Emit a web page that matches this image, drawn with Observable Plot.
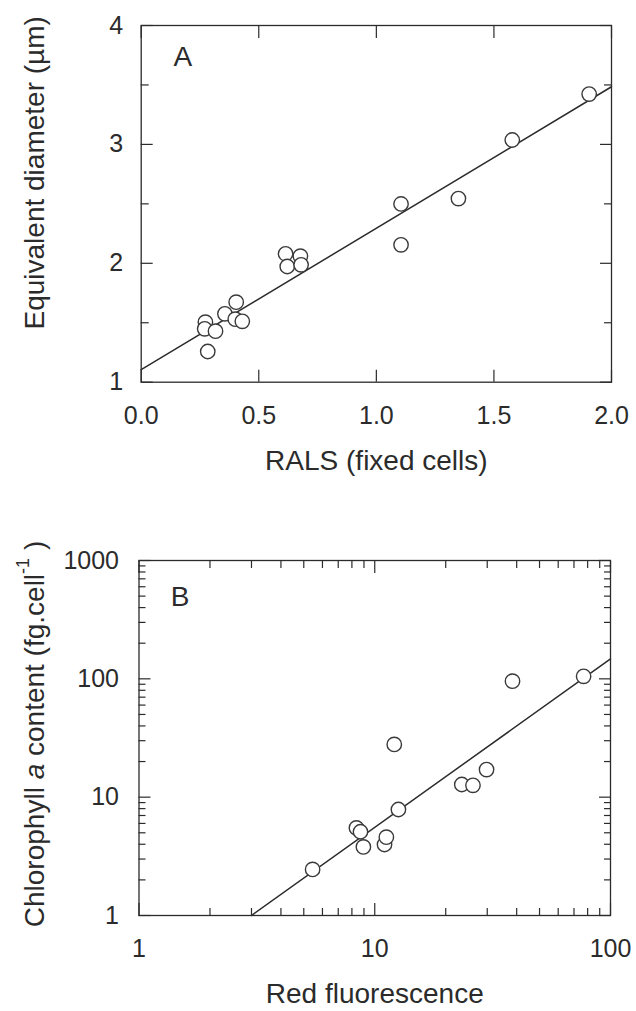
<!DOCTYPE html>
<html>
<head>
<meta charset="utf-8">
<script src="https://cdn.jsdelivr.net/npm/d3@7"></script>
<script src="https://cdn.jsdelivr.net/npm/@observablehq/plot@0.6"></script>
<style>
  html, body { margin: 0; padding: 0; background: white; }
  #chart { width: 636px; }
  #chart svg { display: block; }
</style>
</head>
<body>
<div id="chart"></div>
<script>
// ---------- Panel A data ----------
const ralsA = [0.273, 0.270, 0.316, 0.283, 0.356, 0.404, 0.400, 0.430, 0.614, 0.677, 0.621, 0.680, 1.105, 1.105, 1.349, 1.578, 1.905];
const diamA = [1.505, 1.449, 1.429, 1.258, 1.575, 1.673, 1.530, 1.512, 2.080, 2.060, 1.973, 1.987, 2.499, 2.155, 2.544, 3.037, 3.423];
const fitA = {intercept: 1.105, slope: 1.19};
const xTicksA = [0, 0.5, 1, 1.5, 2];
const yTicksA = [1, 2, 3, 4];
const yHalfTicksA = [1.5, 2.5, 3.5];
const titleXA = "RALS (fixed cells)";
const titleYA = "Equivalent diameter (µm)";
const letterA = "A";

// ---------- Panel B data ----------
const redFluoB = [5.45, 8.36, 8.70, 8.95, 11.0, 11.2, 12.6, 12.1, 23.4, 26.1, 29.8, 38.4, 76.9];
const chlB     = [2.45, 5.50, 5.10, 3.80, 3.98, 4.59, 7.87, 27.9, 12.8, 12.6, 17.1, 95.5, 105];
const fitB = {x0: 3.0, exponent: 1.424}; // y = (x / x0)^exponent
const xTicksB = [1, 10, 100];
const xMinorB = [2, 3, 4, 5, 6, 7, 8, 9, 20, 30, 40, 50, 60, 70, 80, 90];
const yTicksB = [1, 10, 100, 1000];
const yMinorB = [2, 3, 4, 5, 6, 7, 8, 9, 20, 30, 40, 50, 60, 70, 80, 90, 200, 300, 400, 500, 600, 700, 800, 900];
const titleXB = "Red fluorescence";
const titleYB = "Chlorophyll a content (fg.cell-1 )";
const letterB = "B";

// ---------- styling ----------
const FONT = "'Liberation Sans', Arial, Helvetica, sans-serif";
const INK = "#2b2b2b";
const TICK_FS = 25;
const TITLE_FS = 28;

const pointsA = ralsA.map((x, i) => ({x, y: diamA[i]}));
const xDomA = [xTicksA[0], xTicksA[xTicksA.length - 1]];
const lineA = xDomA.map(x => ({x, y: fitA.intercept + fitA.slope * x}));

const pointsB = redFluoB.map((x, i) => ({x, y: chlB[i]}));
const xDomB = [xTicksB[0], xTicksB[xTicksB.length - 1]];
const lineB = [fitB.x0, xDomB[1]].map(x => ({x, y: Math.pow(x / fitB.x0, fitB.exponent)}));

const blank = () => "";
const common = {fontFamily: FONT, fontSize: TICK_FS + "px", color: INK, background: "white", overflow: "visible"};

const plotA = Plot.plot({
  width: 636, height: 500,
  marginLeft: 140.7, marginRight: 25, marginTop: 25, marginBottom: 118.3,
  x: {domain: xDomA},
  y: {domain: [yTicksA[0], yTicksA[yTicksA.length - 1]]},
  style: common,
  marks: [
    Plot.frame({stroke: INK, strokeWidth: 1.3}),
    Plot.axisX(xTicksA, {anchor: "bottom", tickSize: 0, tickPadding: 24, tickFormat: d3.format(".1f"), fontSize: TICK_FS, label: null}),
    Plot.axisX(xTicksA, {anchor: "bottom", tickSize: -12, tickFormat: blank, label: null, stroke: INK, strokeWidth: 1.2}),
    Plot.axisX(xTicksA, {anchor: "top", tickSize: -12, tickFormat: blank, label: null, stroke: INK, strokeWidth: 1.2}),
    Plot.axisY(yTicksA, {anchor: "left", tickSize: 0, tickPadding: 18, tickFormat: d3.format("d"), fontSize: TICK_FS, label: null}),
    Plot.axisY(yTicksA, {anchor: "left", tickSize: -12, tickFormat: blank, label: null, stroke: INK, strokeWidth: 1.2}),
    Plot.axisY(yHalfTicksA, {anchor: "left", tickSize: -8, tickFormat: blank, label: null, stroke: INK, strokeWidth: 1.2}),
    Plot.axisY(yTicksA, {anchor: "right", tickSize: -12, tickFormat: blank, label: null, stroke: INK, strokeWidth: 1.2}),
    Plot.axisY(yHalfTicksA, {anchor: "right", tickSize: -8, tickFormat: blank, label: null, stroke: INK, strokeWidth: 1.2}),
    Plot.line(lineA, {x: "x", y: "y", stroke: INK, strokeWidth: 1.5}),
    Plot.dot(pointsA, {x: "x", y: "y", r: 7.2, stroke: "#3a3a3a", strokeWidth: 1.4, fill: "white"}),
    Plot.text([letterA], {text: d => d, frameAnchor: "top-left", dx: 41.6, dy: 32, textAnchor: "middle", lineAnchor: "middle", fontSize: TITLE_FS, fill: INK}),
    Plot.text([titleXA], {text: d => d, frameAnchor: "bottom", dy: 68.3, lineAnchor: "top", fontSize: TITLE_FS, fill: INK}),
    Plot.text([titleYA], {text: d => d, frameAnchor: "left", dx: -106, dy: -31, rotate: -90, textAnchor: "middle", lineAnchor: "middle", fontSize: TITLE_FS, fill: INK})
  ]
});

const plotB = Plot.plot({
  width: 636, height: 511,
  marginLeft: 138.5, marginRight: 26, marginTop: 60, marginBottom: 96,
  x: {type: "log", domain: xDomB},
  y: {type: "log", domain: [yTicksB[0], yTicksB[yTicksB.length - 1]]},
  style: common,
  marks: [
    Plot.frame({stroke: INK, strokeWidth: 1.3}),
    Plot.axisX(xTicksB, {anchor: "bottom", tickSize: 0, tickPadding: 24, tickFormat: d3.format("d"), fontSize: TICK_FS, label: null}),
    Plot.axisX(xTicksB, {anchor: "bottom", tickSize: -12, tickFormat: blank, label: null, stroke: INK, strokeWidth: 1.2}),
    Plot.axisX(xMinorB, {anchor: "bottom", tickSize: -7, tickFormat: blank, label: null, stroke: INK, strokeWidth: 1.2}),
    Plot.axisX(xTicksB, {anchor: "top", tickSize: -12, tickFormat: blank, label: null, stroke: INK, strokeWidth: 1.2}),
    Plot.axisX(xMinorB, {anchor: "top", tickSize: -7, tickFormat: blank, label: null, stroke: INK, strokeWidth: 1.2}),
    Plot.axisY(yTicksB, {anchor: "left", tickSize: 0, tickPadding: 20, tickFormat: d3.format("d"), fontSize: TICK_FS, label: null}),
    Plot.axisY(yTicksB, {anchor: "left", tickSize: -12, tickFormat: blank, label: null, stroke: INK, strokeWidth: 1.2}),
    Plot.axisY(yMinorB, {anchor: "left", tickSize: -7, tickFormat: blank, label: null, stroke: INK, strokeWidth: 1.2}),
    Plot.axisY(yTicksB, {anchor: "right", tickSize: -12, tickFormat: blank, label: null, stroke: INK, strokeWidth: 1.2}),
    Plot.axisY(yMinorB, {anchor: "right", tickSize: -7, tickFormat: blank, label: null, stroke: INK, strokeWidth: 1.2}),
    Plot.line(lineB, {x: "x", y: "y", stroke: INK, strokeWidth: 1.5}),
    Plot.dot(pointsB, {x: "x", y: "y", r: 7.2, stroke: "#3a3a3a", strokeWidth: 1.4, fill: "white"}),
    Plot.text([letterB], {text: d => d, frameAnchor: "top-left", dx: 41, dy: 37, textAnchor: "middle", lineAnchor: "middle", fontSize: TITLE_FS, fill: INK}),
    Plot.text([titleXB], {text: d => d, frameAnchor: "bottom", dy: 68, lineAnchor: "top", fontSize: TITLE_FS, fill: INK}),
    Plot.text([titleYB], {text: d => d, frameAnchor: "left", dx: -104, dy: -4, rotate: -90, textAnchor: "middle", lineAnchor: "middle", fontSize: TITLE_FS, fill: INK})
  ]
});

// rich formatting for the panel B y title: italic "a" and superscript "-1"
(function () {
  const NS = "http://www.w3.org/2000/svg";
  for (const t of plotB.querySelectorAll("text")) {
    if (t.textContent === titleYB) {
      t.textContent = "";
      const parts = [
        {text: "Chlorophyll "},
        {text: "a", italic: true},
        {text: " content (fg.cell"},
        {text: "-1", sup: true},
        {text: " )", after: true}
      ];
      for (const p of parts) {
        const ts = document.createElementNS(NS, "tspan");
        ts.textContent = p.text;
        if (p.italic) ts.setAttribute("font-style", "italic");
        if (p.sup) { ts.setAttribute("font-size", "18"); ts.setAttribute("dy", "-15"); }
        if (p.after) ts.setAttribute("dy", "15");
        t.appendChild(ts);
      }
    }
  }
})();

document.getElementById("chart").append(plotA, plotB);
</script>
</body>
</html>
